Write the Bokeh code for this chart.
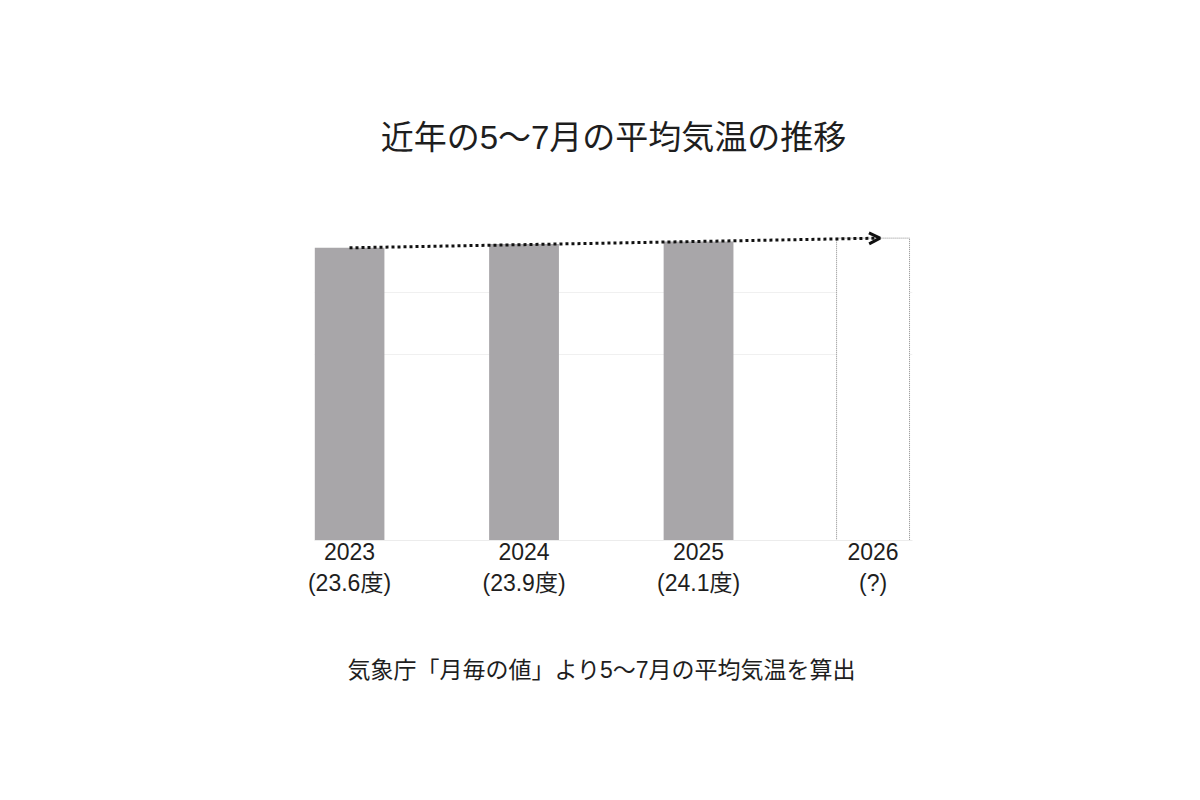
from bokeh.plotting import figure
from bokeh.models import Range1d, FixedTicker, Arrow, OpenHead, Title
from bokeh.embed import file_html
from bokeh.resources import INLINE

# ---- data ----
years = ["2023", "2024", "2025", "2026"]
temps = [23.6, 23.9, 24.1]
temp_labels = ["(23.6度)", "(23.9度)", "(24.1度)", "(?)"]
forecast_value = [24.38]
grid_values = [15, 20]
title_text = "近年の5〜7月の平均気温の推移"
note_text = "気象庁「月毎の値」より5〜7月の平均気温を算出"

FONT = "Liberation Sans, Noto Sans CJK JP"
TEXT_COLOR = "#1e1e1e"

W, H = 1184, 784
p = figure(width=W, height=H, output_backend="svg", toolbar_location=None,
           x_range=Range1d(-0.2006, 3.226), y_range=Range1d(0, 29.43),
           min_border_left=314, min_border_right=272,
           min_border_top=175, min_border_bottom=244)
p.outline_line_color = None
p.background_fill_color = "white"
p.border_fill_color = "white"

# title
p.title.text = title_text
p.title.align = "center"
p.title.text_font = FONT
p.title.text_font_size = "33px"
p.title.text_font_style = "normal"
p.title.text_color = TEXT_COLOR
p.title.standoff = 40

xs = list(range(len(temps)))
p.vbar(x=xs, top=temps, width=0.4, fill_color="#a8a6a9", line_color=None)
p.vbar(x=[len(temps)], top=forecast_value, width=0.418, fill_color="white",
       line_color="#8a8a8a", line_dash="1 1", line_width=1)

p.add_layout(Arrow(x_start=0, y_start=temps[0], x_end=len(temps) + 0.04,
                   y_end=forecast_value[0], line_color="#111111", line_width=3,
                   line_dash="3 3",
                   end=OpenHead(size=11, line_width=3, line_color="#111111")))

# axes / grid
p.yaxis.visible = False
p.xgrid.visible = False
p.ygrid.ticker = FixedTicker(ticks=grid_values)
p.ygrid.grid_line_color = "#f0f0f0"
p.ygrid.grid_line_width = 1

ax = p.xaxis[0]
ax.ticker = FixedTicker(ticks=list(range(len(years))))
ax.major_label_overrides = {i: f"{y}\n{t}" for i, (y, t) in enumerate(zip(years, temp_labels))}
ax.axis_line_color = "#ececec"
ax.major_tick_line_color = None
ax.minor_tick_line_color = None
ax.major_label_standoff = -8
ax.major_label_text_font = FONT
ax.major_label_text_font_size = "23px"
ax.major_label_text_color = TEXT_COLOR
ax.major_label_text_line_height = 1.22

# source note below the axis
note = Title(text=note_text, align="left", offset=33, standoff=110,
             text_font=FONT, text_font_size="23px", text_font_style="normal",
             text_color=TEXT_COLOR)
p.add_layout(note, "below")

open("out.html", "w").write(file_html(p, INLINE))
